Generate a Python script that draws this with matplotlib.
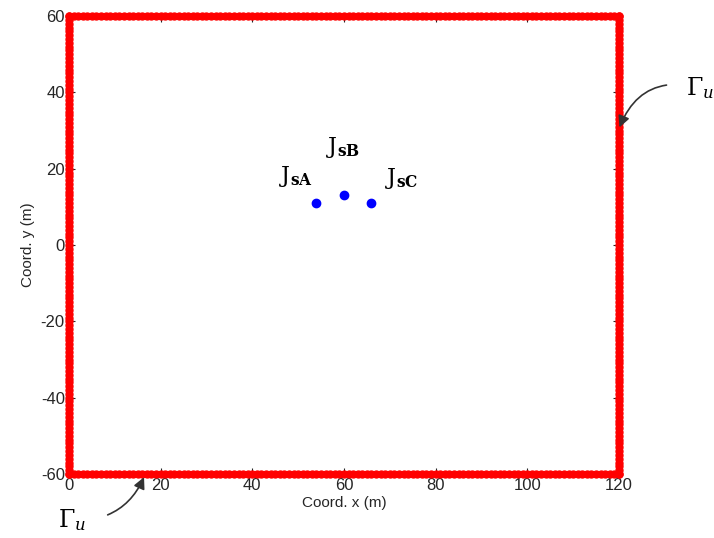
import numpy as np
import matplotlib
matplotlib.use("Agg")
import matplotlib.pyplot as plt

# boundary nodes (Gamma_u), one every metre along the rectangle
x_min, x_max = 0, 120
y_min, y_max = -60, 60
node_step = 1

# source points
src_x = [54, 60, 66]
src_y = [11, 13, 11]
src_labels = [r'$\mathrm{J}_{\mathbf{sA}}$', r'$\mathrm{J}_{\mathbf{sB}}$',
              r'$\mathrm{J}_{\mathbf{sC}}$']

xticks = [0, 20, 40, 60, 80, 100, 120]
yticks = [-60, -40, -20, 0, 20, 40, 60]

xs = np.arange(x_min, x_max + node_step, node_step)
ys = np.arange(y_min, y_max + node_step, node_step)
bx = np.concatenate([xs, xs, np.full(len(ys), x_min), np.full(len(ys), x_max)])
by = np.concatenate([np.full(len(xs), y_min), np.full(len(xs), y_max), ys, ys])

plt.rcParams['font.family'] = ['Liberation Sans', 'DejaVu Sans']
plt.rcParams['mathtext.fontset'] = 'dejavuserif'
plt.rcParams['axes.unicode_minus'] = False

fig = plt.figure(figsize=(7.14, 5.38), dpi=100)
ax = fig.add_axes([0.0966, 0.119, 0.7703, 0.851])

ax.plot(bx, by, 'o', color='red', ms=5, mec='red', clip_on=False, zorder=3)
ax.plot(src_x, src_y, 'o', color='blue', ms=6, zorder=3)

lab_pos = [(49.5, 18.0), (59.8, 25.5), (72.5, 17.5)]
for (lx, ly), s in zip(lab_pos, src_labels):
    ax.text(lx, ly, s, fontsize=16, ha='center', va='center')

ax.set_xlim(x_min, x_max)
ax.set_ylim(y_min, y_max)
ax.set_xticks(xticks)
ax.set_yticks(yticks)
ax.tick_params(direction='in', top=True, right=True, labelsize=12,
               length=4, colors='#262626', pad=3)
for sp in ax.spines.values():
    sp.set_visible(False)
ax.set_xlabel('Coord. x (m)', fontsize=11, labelpad=2, color='#262626')
ax.set_ylabel('Coord. y (m)', fontsize=11, labelpad=4, color='#262626')

# Gamma_u annotations outside the axes
ax.annotate(r'$\Gamma_u$', xy=(120, 30.5), xycoords='data',
            xytext=(700, 450), textcoords='figure pixels',
            fontsize=17, ha='center', va='center', annotation_clip=False,
            arrowprops=dict(arrowstyle='-|>', color='#333333', lw=1.2,
                            shrinkA=12, shrinkB=1,
                            connectionstyle='arc3,rad=0.45'))
ax.annotate(r'$\Gamma_u$', xy=(16.5, -60.5), xycoords='data',
            xytext=(72, 18), textcoords='figure pixels',
            fontsize=17, ha='center', va='center', annotation_clip=False,
            arrowprops=dict(arrowstyle='-|>', color='#333333', lw=1.2,
                            shrinkA=14, shrinkB=1,
                            connectionstyle='arc3,rad=0.35'))

fig.savefig('out.png', dpi=100)
